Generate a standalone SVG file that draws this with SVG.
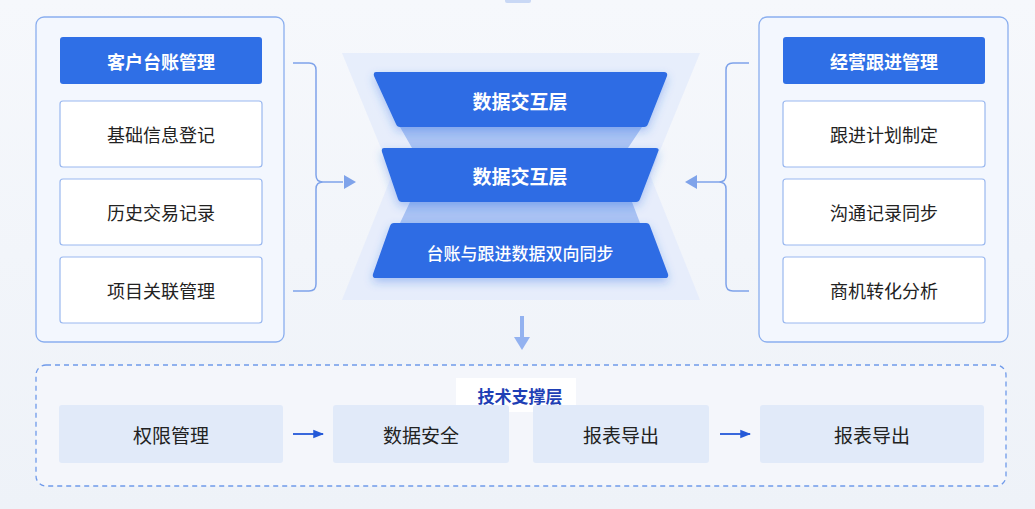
<svg xmlns="http://www.w3.org/2000/svg" width="1035" height="509" viewBox="0 0 1035 509">
<defs>
<style>
text{font-family:"Noto Sans CJK SC","Liberation Sans",sans-serif;text-anchor:middle;dominant-baseline:central}
.panel{fill:#f3f7fe;stroke:#8aaeef;stroke-width:1.3}
.hdr{fill:#2f6fe6}
.hdrt{fill:#fff;font-size:18px;font-weight:700}
.item{fill:#fff;stroke:#9ab8ef;stroke-width:1.2}
.itemt{fill:#222;font-size:18px}
.layer{fill:#2d6ce4;filter:url(#sh)}
.layt{fill:#fff;font-size:19px;font-weight:700}
.conn{fill:none;stroke:#7fa3ea;stroke-width:1.5}
.bitem{fill:#e1eaf9}
.bt{fill:#222;font-size:19px}
</style>
<filter id="sh" x="-10%" y="-30%" width="120%" height="170%"><feDropShadow dx="0" dy="4" stdDeviation="5" flood-color="#2d6ce4" flood-opacity="0.35"/></filter>
<linearGradient id="bg" x1="0" y1="0" x2="0" y2="1"><stop offset="0" stop-color="#f6f8fc"/><stop offset="1" stop-color="#eef2f8"/></linearGradient>
<marker id="ab" viewBox="0 0 10 10" refX="9" refY="5" markerWidth="6" markerHeight="6" orient="auto"><path d="M0,1 L10,5 L0,9 z" fill="#2459d8"/></marker>
</defs>
<rect width="1035" height="509" fill="url(#bg)"/>
<rect x="505" y="-3" width="26" height="6" rx="2" fill="#c9d8f5"/>
<g id="center-backdrop">
<path d="M342,53 H700 L650,175 L700,300 H342 L392,175 Z" fill="#e3ebfb" opacity="0.8"/>
<path d="M400,127 H642 L628,148 H412 Z M410,202 H632 L640,223 H400 Z" fill="#a9c2f3"/>
</g>
<g id="left-panel">
<rect class="panel" x="36" y="17" width="248" height="325" rx="8"/>
<rect class="hdr" x="60" y="37" width="202" height="47" rx="3"/><text class="hdrt" x="161" y="60.5">客户台账管理</text>
<rect class="item" x="60" y="101" width="202" height="66" rx="3"/><text class="itemt" x="161" y="134">基础信息登记</text>
<rect class="item" x="60" y="179" width="202" height="66" rx="3"/><text class="itemt" x="161" y="212">历史交易记录</text>
<rect class="item" x="60" y="257" width="202" height="66" rx="3"/><text class="itemt" x="161" y="290">项目关联管理</text>
</g>
<g id="right-panel">
<rect class="panel" x="759" y="17" width="249" height="325" rx="8"/>
<rect class="hdr" x="783" y="37" width="202" height="47" rx="3"/><text class="hdrt" x="884" y="60.5">经营跟进管理</text>
<rect class="item" x="783" y="101" width="202" height="66" rx="3"/><text class="itemt" x="884" y="134">跟进计划制定</text>
<rect class="item" x="783" y="179" width="202" height="66" rx="3"/><text class="itemt" x="884" y="212">沟通记录同步</text>
<rect class="item" x="783" y="257" width="202" height="66" rx="3"/><text class="itemt" x="884" y="290">商机转化分析</text>
</g>
<g id="layer1"><path class="layer" d="M376,72 H664 Q668,72 667,76 L648,124 Q647,127 644,127 H400 Q397,127 396,124 L374,76 Q373,72 376,72 Z"/><text class="layt" x="520" y="100">数据交互层</text></g>
<g id="layer2"><path class="layer" d="M384,148 H656 Q660,148 658,152 L640,199 Q639,202 636,202 H402 Q399,202 398,199 L382,152 Q381,148 384,148 Z"/><text class="layt" x="520" y="175">数据交互层</text></g>
<g id="layer3"><path class="layer" d="M394,223 H646 Q649,223 650,226 L668,274 Q669,278 665,278 H376 Q372,278 373,274 L390,226 Q391,223 394,223 Z"/><text class="layt" x="520" y="252" style="font-size:17px;font-weight:500">台账与跟进数据双向同步</text></g>
<g id="support-layer">
<rect x="36" y="365" width="970" height="121" rx="10" fill="#f4f6fb" stroke="#6f9aea" stroke-width="1.3" stroke-dasharray="5,4"/>
<rect x="456" y="378" width="120" height="34" fill="#fff"/>
<text x="520" y="395" style="fill:#1f3fb5;font-size:17px;font-weight:700">技术支撑层</text>
<rect class="bitem" x="59" y="405" width="224" height="58" rx="3"/><text class="bt" x="171" y="434">权限管理</text>
<rect class="bitem" x="333" y="405" width="176" height="58" rx="3"/><text class="bt" x="421" y="434">数据安全</text>
<rect class="bitem" x="533" y="405" width="176" height="58" rx="3"/><text class="bt" x="621" y="434">报表导出</text>
<rect class="bitem" x="760" y="405" width="224" height="58" rx="3"/><text class="bt" x="872" y="434">报表导出</text>
</g>
<g id="connectors">
<path class="conn" d="M293,63 H309 Q316,63 316,70 V175 Q316,182 323,182 H343 M293,291 H309 Q316,291 316,284 V189 Q316,182 323,182"/>
<path d="M344,175 L356,182 L344,189 Z" fill="#7fa3ea"/>
<path class="conn" d="M749,63 H733 Q726,63 726,70 V175 Q726,182 719,182 H697 M749,291 H733 Q726,291 726,284 V189 Q726,182 719,182"/>
<path d="M697,175 L685,182 L697,189 Z" fill="#7fa3ea"/>
<path d="M522,316 V340" stroke="#93b2f0" stroke-width="4"/>
<path d="M514,337 L522,350 L530,337 Z" fill="#93b2f0"/>
<line x1="293" y1="434" x2="323" y2="434" stroke="#2459d8" stroke-width="1.8" marker-end="url(#ab)"/>
<line x1="720" y1="434" x2="750" y2="434" stroke="#2459d8" stroke-width="1.8" marker-end="url(#ab)"/>
</g>
</svg>
